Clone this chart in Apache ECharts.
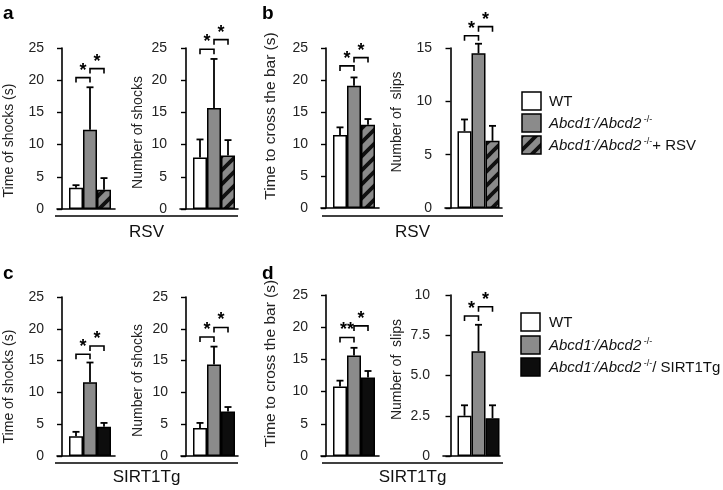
<!DOCTYPE html>
<html><head><meta charset="utf-8">
<script src="https://cdn.jsdelivr.net/npm/echarts@6/dist/echarts.min.js"></script>
<style>html,body{margin:0;padding:0;background:#fff}#c{width:723px;height:490px}</style>
</head><body><div id="c"></div>
<script>
// ---------------- data ----------------
const barIndex = [1, 2, 3];
const aTimeMean = [3.3, 12.3, 3.0];  const aTimeErr = [3.7, 18.9, 4.8];
const aNumMean  = [8.0, 15.7, 8.3];  const aNumErr  = [10.8, 23.3, 10.7];
const bTimeMean = [11.4, 19.1, 13.0]; const bTimeErr = [12.6, 20.4, 13.9];
const bSlipMean = [7.2, 14.5, 6.3];  const bSlipErr = [8.3, 15.4, 7.7];
const cTimeMean = [3.1, 11.6, 4.6];  const cTimeErr = [3.8, 14.7, 5.2];
const cNumMean  = [4.4, 14.4, 7.0];  const cNumErr  = [5.2, 17.2, 7.7];
const dTimeMean = [10.8, 15.6, 12.2]; const dTimeErr = [11.7, 16.8, 13.2];
const dSlipMean = [2.5, 6.5, 2.35];  const dSlipErr = [3.15, 8.15, 3.15];
// significance brackets: [from bar, to bar, level]
const aTimeSig = [[1, 2, 20.4], [2, 3, 21.8]];
const aNumSig  = [[1, 2, 24.8], [2, 3, 26.3]];
const bTimeSig = [[1, 2, 22.2], [2, 3, 23.5]];
const bSlipSig = [[1, 2, 16.15], [2, 3, 17.0]];
const cTimeSig = [[1, 2, 16.0], [2, 3, 17.3]];
const cNumSig  = [[1, 2, 18.7], [2, 3, 20.2]];
const dTimeSig = [[1, 2, 18.4], [2, 3, 20.2]];
const dSlipSig = [[1, 2, 8.7], [2, 3, 9.27]];
const aTimeStars = ['*', '*'], aNumStars = ['*', '*'], bTimeStars = ['*', '*'], bSlipStars = ['*', '*'];
const cTimeStars = ['*', '*'], cNumStars = ['*', '*'], dTimeStars = ['**', '*'], dSlipStars = ['*', '*'];
// axis ticks
const ticks25 = [0, 5, 10, 15, 20, 25];
const ticks15 = [0, 5, 10, 15];
const ticks10 = [0, 2.5, 5, 7.5, 10];
const ticks10Labels = ['0', '2.5', '5.0', '7.5', '10'];
// titles / labels
const yTitles = ['Time of shocks (s)', 'Number of shocks', 'Time to cross the bar (s)', 'Number of  slips'];
const treatmentLabels = ['RSV', 'SIRT1Tg'];
const panelLetters = ['a', 'b', 'c', 'd'];
const legendRSV = ['WT', '{i|Abcd1}{s|-}{i|/Abcd2}{s| -/-}', '{i|Abcd1}{s|-}{i|/Abcd2}{s| -/-}{n|+ RSV}'];
const legendSIRT = ['WT', '{i|Abcd1}{s|-}{i|/Abcd2}{s| -/-}', '{i|Abcd1}{s|-}{i|/Abcd2}{s| -/-}{n|/ SIRT1Tg}'];

// ---------------- styles ----------------
const FONT = '"Liberation Sans", Arial, Helvetica, sans-serif';
const GREY = '#8b8b8b';
const hatchCanvas = document.createElement('canvas');
hatchCanvas.width = 14; hatchCanvas.height = 14;
(function () {
  const g = hatchCanvas.getContext('2d');
  g.fillStyle = GREY; g.fillRect(0, 0, 14, 14);
  g.strokeStyle = '#111'; g.lineWidth = 3.8; g.lineCap = 'square';
  g.beginPath();
  g.moveTo(-3, 17); g.lineTo(17, -3);
  g.moveTo(-10, 10); g.lineTo(10, -10);
  g.moveTo(4, 24); g.lineTo(24, 4);
  g.stroke();
})();
const hatch = { image: hatchCanvas, repeat: 'repeat' };
const fillRSV = ['#ffffff', GREY, hatch];
const fillSIRT = ['#ffffff', GREY, '#0d0d0d'];

// panel layout: axis x, first bar centre, axis end, top px, bottom px
const panels = [
  { ax: 57,  c0: 76,    xe: 115, top: 48,  bot: 209, mean: aTimeMean, err: aTimeErr, sig: aTimeSig, stars: aTimeStars, ticks: ticks25, title: yTitles[0], tsize: 14,   gap: 41, shift: 12, fill: fillRSV },
  { ax: 180, c0: 200,   xe: 238, top: 48,  bot: 209, mean: aNumMean,  err: aNumErr,  sig: aNumSig,  stars: aNumStars,  ticks: ticks25, title: yTitles[1], tsize: 14,   gap: 35, shift: 4, fill: fillRSV },
  { ax: 321, c0: 340,   xe: 379, top: 48,  bot: 208, mean: bTimeMean, err: bTimeErr, sig: bTimeSig, stars: bTimeStars, ticks: ticks25, title: yTitles[2], tsize: 15.5, gap: 42, shift: -12, fill: fillRSV },
  { ax: 445, c0: 464.5, xe: 502, top: 48,  bot: 208, mean: bSlipMean, err: bSlipErr, sig: bSlipSig, stars: bSlipStars, ticks: ticks15, title: yTitles[3], tsize: 14,   gap: 41, shift: -6, fill: fillRSV },
  { ax: 57,  c0: 76,    xe: 115, top: 297, bot: 456, mean: cTimeMean, err: cTimeErr, sig: cTimeSig, stars: cTimeStars, ticks: ticks25, title: yTitles[0], tsize: 14,   gap: 41, shift: 10, fill: fillSIRT },
  { ax: 181, c0: 200,   xe: 238, top: 297, bot: 456, mean: cNumMean,  err: cNumErr,  sig: cNumSig,  stars: cNumStars,  ticks: ticks25, title: yTitles[1], tsize: 14,   gap: 36, shift: 4, fill: fillSIRT },
  { ax: 321, c0: 340,   xe: 379, top: 295, bot: 456, mean: dTimeMean, err: dTimeErr, sig: dTimeSig, stars: dTimeStars, ticks: ticks25, title: yTitles[2], tsize: 15.5, gap: 42, shift: -12, fill: fillSIRT },
  { ax: 443, c0: 464.5, xe: 500, top: 295, bot: 456, mean: dSlipMean, err: dSlipErr, sig: dSlipSig, stars: dSlipStars, ticks: ticks10, tickLabels: ticks10Labels, title: yTitles[3], tsize: 14, gap: 39, shift: -6, fill: fillSIRT }
];
const BW = 14;

const grid = [], xAxis = [], yAxis = [], series = [];
panels.forEach((p, i) => {
  grid.push({ left: p.ax, top: p.top, width: p.xe - p.ax, height: p.bot - p.top, containLabel: false });
  xAxis.push({
    type: 'value', gridIndex: i,
    min: 1 - (p.c0 - p.ax) / BW, max: 3 + (p.xe - (p.c0 + 2 * BW)) / BW,
    axisLine: { show: true, onZero: false, lineStyle: { color: '#000', width: 1.6 } },
    axisTick: { show: false }, axisLabel: { show: false }, splitLine: { show: false }
  });
  const t = p.ticks;
  yAxis.push({
    type: 'value', gridIndex: i, min: t[0], max: t[t.length - 1], interval: t[1] - t[0],
    name: p.title, nameLocation: 'middle', nameGap: p.gap,
    nameTextStyle: { fontFamily: FONT, fontSize: p.tsize, color: '#222',
      padding: p.shift > 0 ? [0, 2 * p.shift, 0, 0] : [0, 0, 0, -2 * p.shift] },
    axisLine: { show: true, lineStyle: { color: '#000', width: 1.6 } },
    axisTick: { show: true, length: 5, lineStyle: { color: '#000', width: 1.4 } },
    axisLabel: { fontFamily: FONT, fontSize: 14, color: '#222', margin: 13,
      formatter: p.tickLabels ? (v) => p.tickLabels[t.indexOf(v)] : undefined },
    splitLine: { show: false }
  });
  series.push({
    type: 'bar', xAxisIndex: i, yAxisIndex: i, barWidth: BW, z: 2,
    data: barIndex.map((x, k) => ({ value: [x, p.mean[k]],
      itemStyle: { color: p.fill[k], borderColor: '#000', borderWidth: 1.5 } }))
  });
  series.push({
    type: 'custom', xAxisIndex: i, yAxisIndex: i, z: 3,
    data: barIndex.map((x, k) => [x, p.mean[k], p.err[k]]),
    renderItem: (params, api) => {
      const a = api.coord([api.value(0), api.value(1)]);
      const b = api.coord([api.value(0), api.value(2)]);
      return { type: 'group', children: [
        { type: 'line', shape: { x1: a[0], y1: a[1], x2: b[0], y2: b[1] }, style: { stroke: '#000', lineWidth: 1.8 } },
        { type: 'line', shape: { x1: b[0] - 3.5, y1: b[1], x2: b[0] + 3.5, y2: b[1] }, style: { stroke: '#000', lineWidth: 1.8 } }
      ] };
    }
  });
  series.push({
    type: 'custom', xAxisIndex: i, yAxisIndex: i, z: 3, clip: false,
    data: p.sig,
    renderItem: (params, api) => {
      const a = api.coord([api.value(0), api.value(2)]);
      const b = api.coord([api.value(1), api.value(2)]);
      const y = a[1];
      return { type: 'group', children: [
        { type: 'polyline', shape: { points: [[a[0], y + 5], [a[0], y], [b[0], y], [b[0], y + 5]] },
          style: { stroke: '#000', fill: null, lineWidth: 1.6 } },
        { type: 'text', x: (a[0] + b[0]) / 2, y: y - 16,
          style: { text: p.stars[params.dataIndex], font: 'bold 18px ' + FONT, fill: '#000',
            textAlign: 'center', textVerticalAlign: 'top' } }
      ] };
    }
  });
});

// ---------------- graphic (letters, treatment lines, legends) ----------------
const graphic = [];
[[3, 4], [262, 4], [3, 264], [262, 264]].forEach((pos, i) => {
  graphic.push({ type: 'text', left: pos[0], top: pos[1],
    style: { text: panelLetters[i], font: 'bold 19px ' + FONT, fill: '#000' } });
});
[[55, 238, 216, 232, 0], [322, 503, 216, 232, 0], [55, 238, 463, 477, 1], [322, 503, 463, 477, 1]].forEach(g => {
  graphic.push({ type: 'line', shape: { x1: g[0], y1: g[2], x2: g[1], y2: g[2] }, style: { stroke: '#000', lineWidth: 1.4 } });
  graphic.push({ type: 'text', x: (g[0] + g[1]) / 2, y: g[3],
    style: { text: treatmentLabels[g[4]], font: '17px ' + FONT, fill: '#111', textAlign: 'center', textVerticalAlign: 'middle' } });
});
const rich = {
  i: { fontFamily: FONT, fontSize: 15, fontStyle: 'italic', lineHeight: 18, color: '#111' },
  s: { fontFamily: FONT, fontSize: 9, verticalAlign: 'top', lineHeight: 18, color: '#111' },
  n: { fontFamily: FONT, fontSize: 15, lineHeight: 18, color: '#111' }
};
function legend(items, fills, x, ys) {
  items.forEach((txt, k) => {
    graphic.push({ type: 'rect', shape: { x: x, y: ys[k] - 9, width: 19, height: 18 },
      style: { fill: fills[k], stroke: '#000', lineWidth: 1.5 } });
    graphic.push({ type: 'text', x: 549, y: ys[k] + 1,
      style: { text: txt, font: '15px ' + FONT, fill: '#111', textVerticalAlign: 'middle', rich: rich } });
  });
}
legend(legendRSV, fillRSV, 522, [101, 123, 145]);
legend(legendSIRT, fillSIRT, 521, [322, 345, 367]);

const chart = echarts.init(document.getElementById('c'), null, { renderer: 'canvas' });
chart.setOption({ animation: false, backgroundColor: '#fff', grid, xAxis, yAxis, series, graphic });
</script></body></html>
